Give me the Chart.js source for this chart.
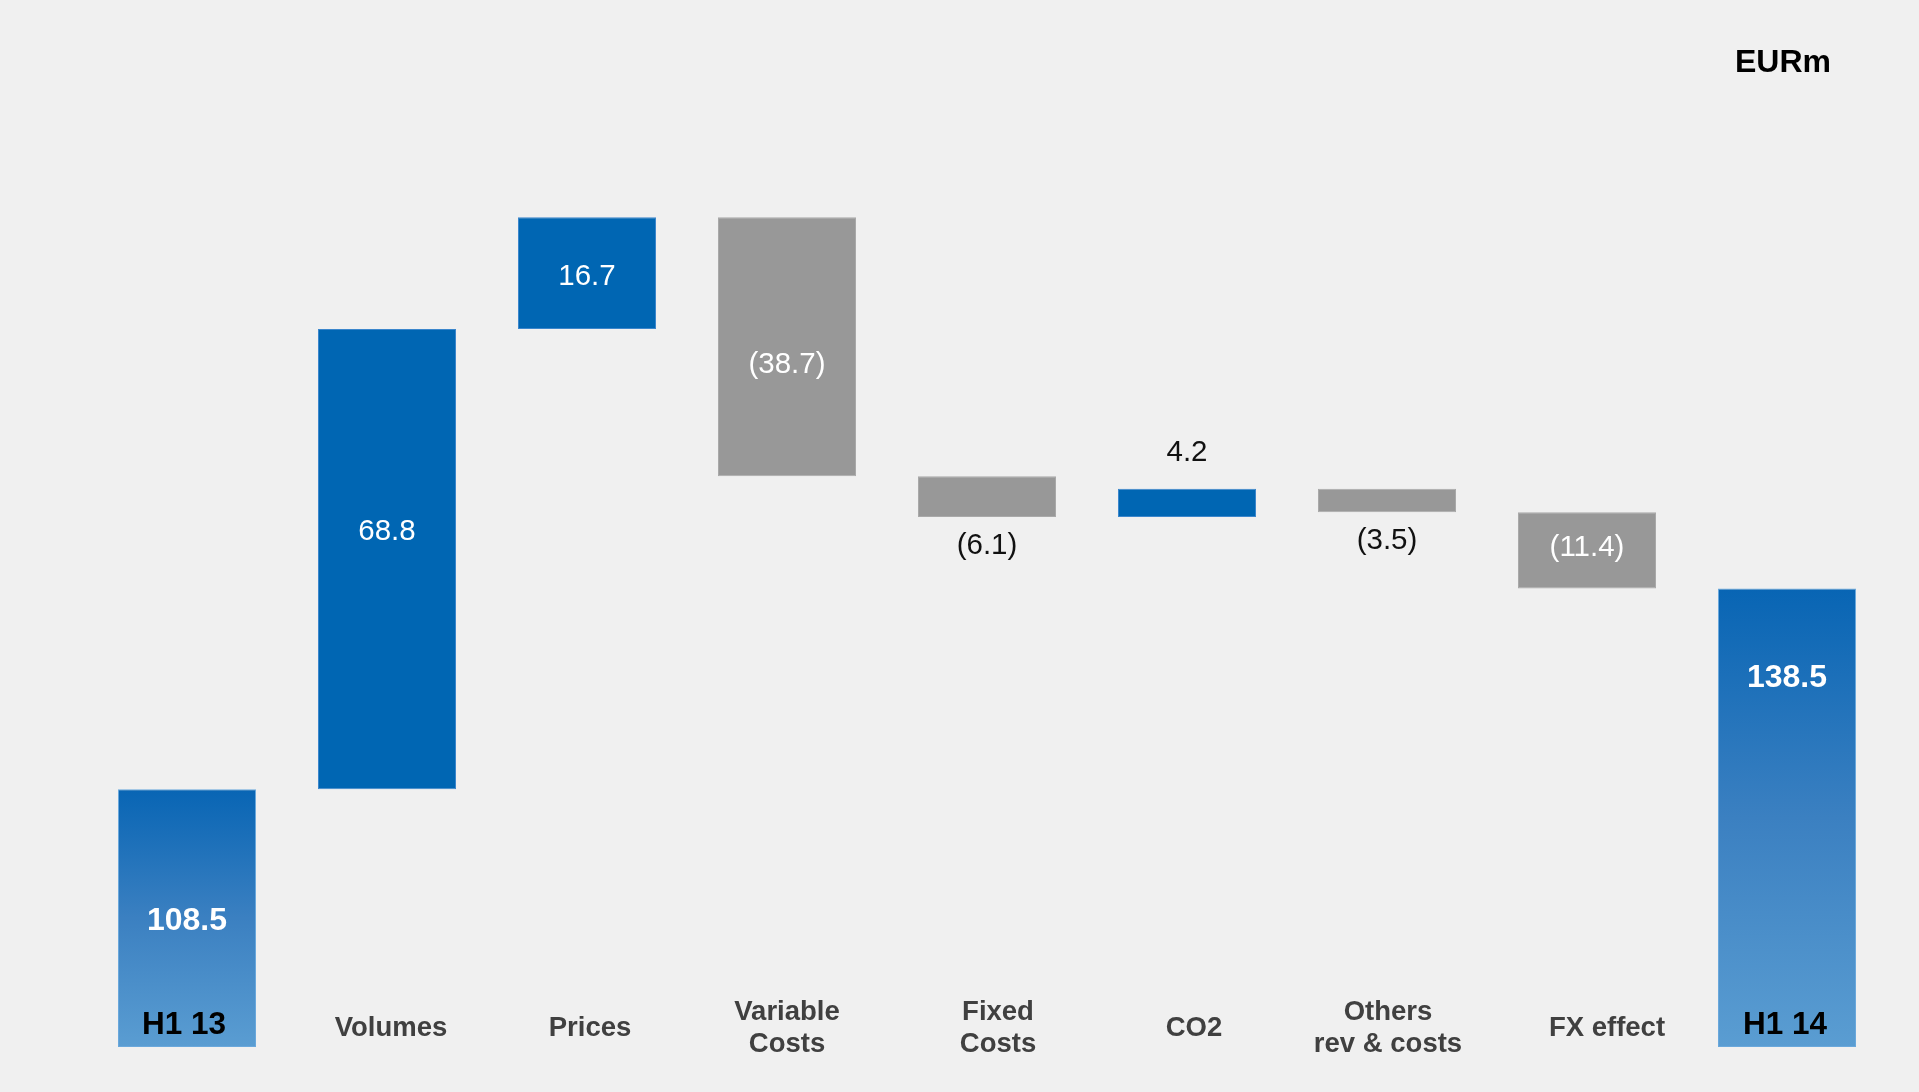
<!DOCTYPE html>
<html><head><meta charset="utf-8">
<script src="https://cdn.jsdelivr.net/npm/chart.js@4.4.1/dist/chart.umd.min.js"></script>
<style>html,body{margin:0;padding:0;background:#f0f0f0;overflow:hidden;} #wrap{width:1919px;height:1092px;position:relative;}</style>
</head><body><div id="wrap"><canvas id="c"></canvas></div>
<script>
const categories = [['H1 13'], ['Volumes'], ['Prices'], ['Variable', 'Costs'], ['Fixed', 'Costs'], ['CO2'], ['Others', 'rev & costs'], ['FX effect'], ['H1 14']];
const startTotal = 108.5;
const deltas = [68.8, 16.7, -38.7, -6.1, 4.2, -3.5, -11.4];
const endTotal = 138.5;
const unitLabel = 'EURm';
const yMin = 70, yMax = 200;

// build waterfall ranges
const values = [startTotal, ...deltas, endTotal];
const kinds = ['total', ...deltas.map(() => 'delta'), 'total'];
const ranges = [];
ranges.push([yMin, startTotal]);
let run = startTotal;
deltas.forEach(d => { ranges.push([run, run + d]); run += d; });
ranges.push([yMin, endTotal]);

const FONT = '"Liberation Sans", Arial, Helvetica, sans-serif';

const labelPlugin = {
  id: 'wfLabels',
  afterDatasetsDraw(chart, args, opts) {
    const ctx = chart.ctx;
    const meta = chart.getDatasetMeta(0);
    const xs = chart.scales.x;
    ctx.save();
    ctx.textAlign = 'center';
    ctx.textBaseline = 'middle';
    meta.data.forEach((bar, i) => {
      const top = Math.min(bar.y, bar.base), bot = Math.max(bar.y, bar.base);
      const v = values[i];
      const txt = v < 0 ? '(' + Math.abs(v).toFixed(1) + ')' : v.toFixed(1);
      if (kinds[i] === 'total') {
        ctx.font = 'bold 32px ' + FONT;
        ctx.fillStyle = '#ffffff';
        ctx.fillText(txt, bar.x, top + (bot - top) * opts.anchor[i]);
      } else if (Math.abs(v) >= opts.insideMin) {
        ctx.font = '29.5px ' + FONT;
        ctx.fillStyle = '#ffffff';
        ctx.fillText(txt, bar.x, top + (bot - top) * opts.anchor[i]);
      } else {
        ctx.font = '29.5px ' + FONT;
        ctx.fillStyle = '#111111';
        ctx.fillText(txt, bar.x, v < 0 ? bot + opts.belowGap : top - opts.aboveGap);
      }
    });
    categories.forEach((lines, i) => {
      const cx = xs.getPixelForValue(i) + opts.labelShift[i];
      const isTotal = kinds[i] === 'total';
      ctx.font = (isTotal ? 'bold 31.5px ' : 'bold 27.5px ') + FONT;
      ctx.fillStyle = isTotal ? '#000000' : '#404040';
      const lh = 32;
      const cy = isTotal ? 1025 : 1028;
      const y0 = cy - (lines.length - 1) * lh / 2;
      lines.forEach((ln, k) => ctx.fillText(ln, cx, y0 + k * lh));
    });
    ctx.font = 'bold 32px ' + FONT;
    ctx.fillStyle = '#000000';
    ctx.textAlign = 'right';
    ctx.fillText(unitLabel, 1831, 63);
    ctx.restore();
  }
};

new Chart(document.getElementById('c'), {
  type: 'bar',
  data: {
    labels: categories.map(l => l.join(' ')),
    datasets: [{
      data: ranges,
      barPercentage: 0.69,
      categoryPercentage: 1.0,
      borderWidth: 1,
      borderSkipped: false,
      borderColor: (c) => {
        const i = c.dataIndex;
        if (kinds[i] === 'total') return '#6aa8dc';
        return values[i] >= 0 ? '#3b86cc' : '#a9a9a9';
      },
      backgroundColor: (c) => {
        const i = c.dataIndex;
        const chart = c.chart;
        if (kinds[i] !== 'total') return values[i] >= 0 ? '#0066b3' : '#989898';
        const area = chart.chartArea;
        if (!area || !chart.scales.y) return '#2f7cc0';
        const ys = chart.scales.y;
        const t = ys.getPixelForValue(values[i]);
        const b = ys.getPixelForValue(yMin);
        const g = chart.ctx.createLinearGradient(0, t, 0, b);
        g.addColorStop(0, '#0865b4');
        g.addColorStop(0.5, '#3b80c1');
        g.addColorStop(1, '#5a9dd2');
        return g;
      }
    }]
  },
  options: {
    responsive: true,
    maintainAspectRatio: false,
    animation: false,
    layout: { padding: { left: 87, right: 32, top: 177, bottom: 45 } },
    scales: {
      x: { display: false },
      y: { display: false, min: yMin, max: yMax }
    },
    plugins: {
      legend: { display: false },
      tooltip: { enabled: false },
      wfLabels: {
        anchor: [0.51, 0.44, 0.53, 0.57, 0.5, 0.5, 0.5, 0.46, 0.195],
        labelShift: [-3, 4, 3, 0, 11, 7, 1, 20, -2],
        insideMin: 7,
        belowGap: 29,
        aboveGap: 36
      }
    }
  },
  plugins: [labelPlugin]
});
</script>
</body></html>
